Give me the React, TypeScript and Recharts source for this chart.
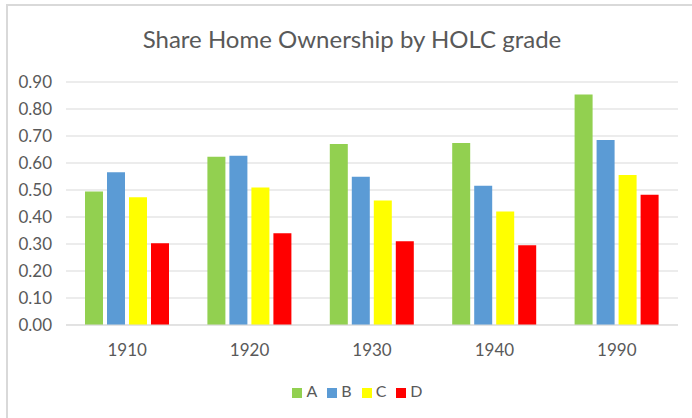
import React from 'react';
import { BarChart, Bar, XAxis, YAxis, CartesianGrid, Legend } from 'recharts';

const years = ['1910', '1920', '1930', '1940', '1990'];
const gradeA = [0.494, 0.623, 0.67, 0.674, 0.854];
const gradeB = [0.566, 0.627, 0.549, 0.516, 0.685];
const gradeC = [0.473, 0.509, 0.461, 0.42, 0.556];
const gradeD = [0.303, 0.34, 0.31, 0.295, 0.482];
const yTicks = [0, 0.1, 0.2, 0.3, 0.4, 0.5, 0.6, 0.7, 0.8, 0.9];

const data = years.map((year, i) => ({
  year,
  A: gradeA[i],
  B: gradeB[i],
  C: gradeC[i],
  D: gradeD[i],
}));

const textColor = '#595959';
const font = 'Lato, "Open Sans", sans-serif';

const App: React.FC = () => {
  return (
    <div
      style={{
        position: 'absolute',
        left: 0,
        top: 0,
        width: 692,
        height: 418,
        overflow: 'hidden',
        background: '#fff',
        fontFamily: font,
      }}
    >
      <div
        style={{
          position: 'absolute',
          left: 6,
          top: 4,
          width: 740,
          height: 460,
          border: '2px solid #d9d9d9',
        }}
      />
      <svg width={692} height={60} style={{ position: 'absolute', left: 0, top: 0 }}>
        <text x={352} y={48} textAnchor="middle" fontSize={24} fill={textColor} fontFamily={font}>
          Share Home Ownership by HOLC grade
        </text>
      </svg>
      <div style={{ position: 'absolute', left: 0, top: 0 }}>
        <BarChart
          width={692}
          height={418}
          data={data}
          margin={{ top: 63, right: 14, left: 0, bottom: 63 }}
          barSize={18}
          barGap={4}
        >
          <CartesianGrid vertical={false} stroke="#d9d9d9" />
          <XAxis
            dataKey="year"
            height={30}
            tickLine={false}
            tickSize={0}
            tickMargin={19}
            axisLine={{ stroke: '#d9d9d9' }}
            tick={{ fontSize: 17, fill: textColor, fontFamily: font }}
          />
          <YAxis
            width={66}
            domain={[0, 0.9]}
            ticks={yTicks}
            interval={0}
            axisLine={false}
            tickLine={false}
            tickSize={0}
            tickMargin={14}
            tickFormatter={(v: number) => v.toFixed(2)}
            tick={{ fontSize: 17, fill: textColor, fontFamily: font }}
          />
          <Legend
            verticalAlign="top"
            align="center"
            iconType="square"
            iconSize={10}
            wrapperStyle={{ top: 381, left: 10, width: 705, fontSize: 16 }}
            formatter={(value: string) => <span style={{ color: textColor }}>{value}</span>}
          />
          <Bar dataKey="A" fill="#92d050" isAnimationActive={false} />
          <Bar dataKey="B" fill="#5b9bd5" isAnimationActive={false} />
          <Bar dataKey="C" fill="#ffff00" isAnimationActive={false} />
          <Bar dataKey="D" fill="#ff0000" isAnimationActive={false} />
        </BarChart>
      </div>
    </div>
  );
};

export default App;
